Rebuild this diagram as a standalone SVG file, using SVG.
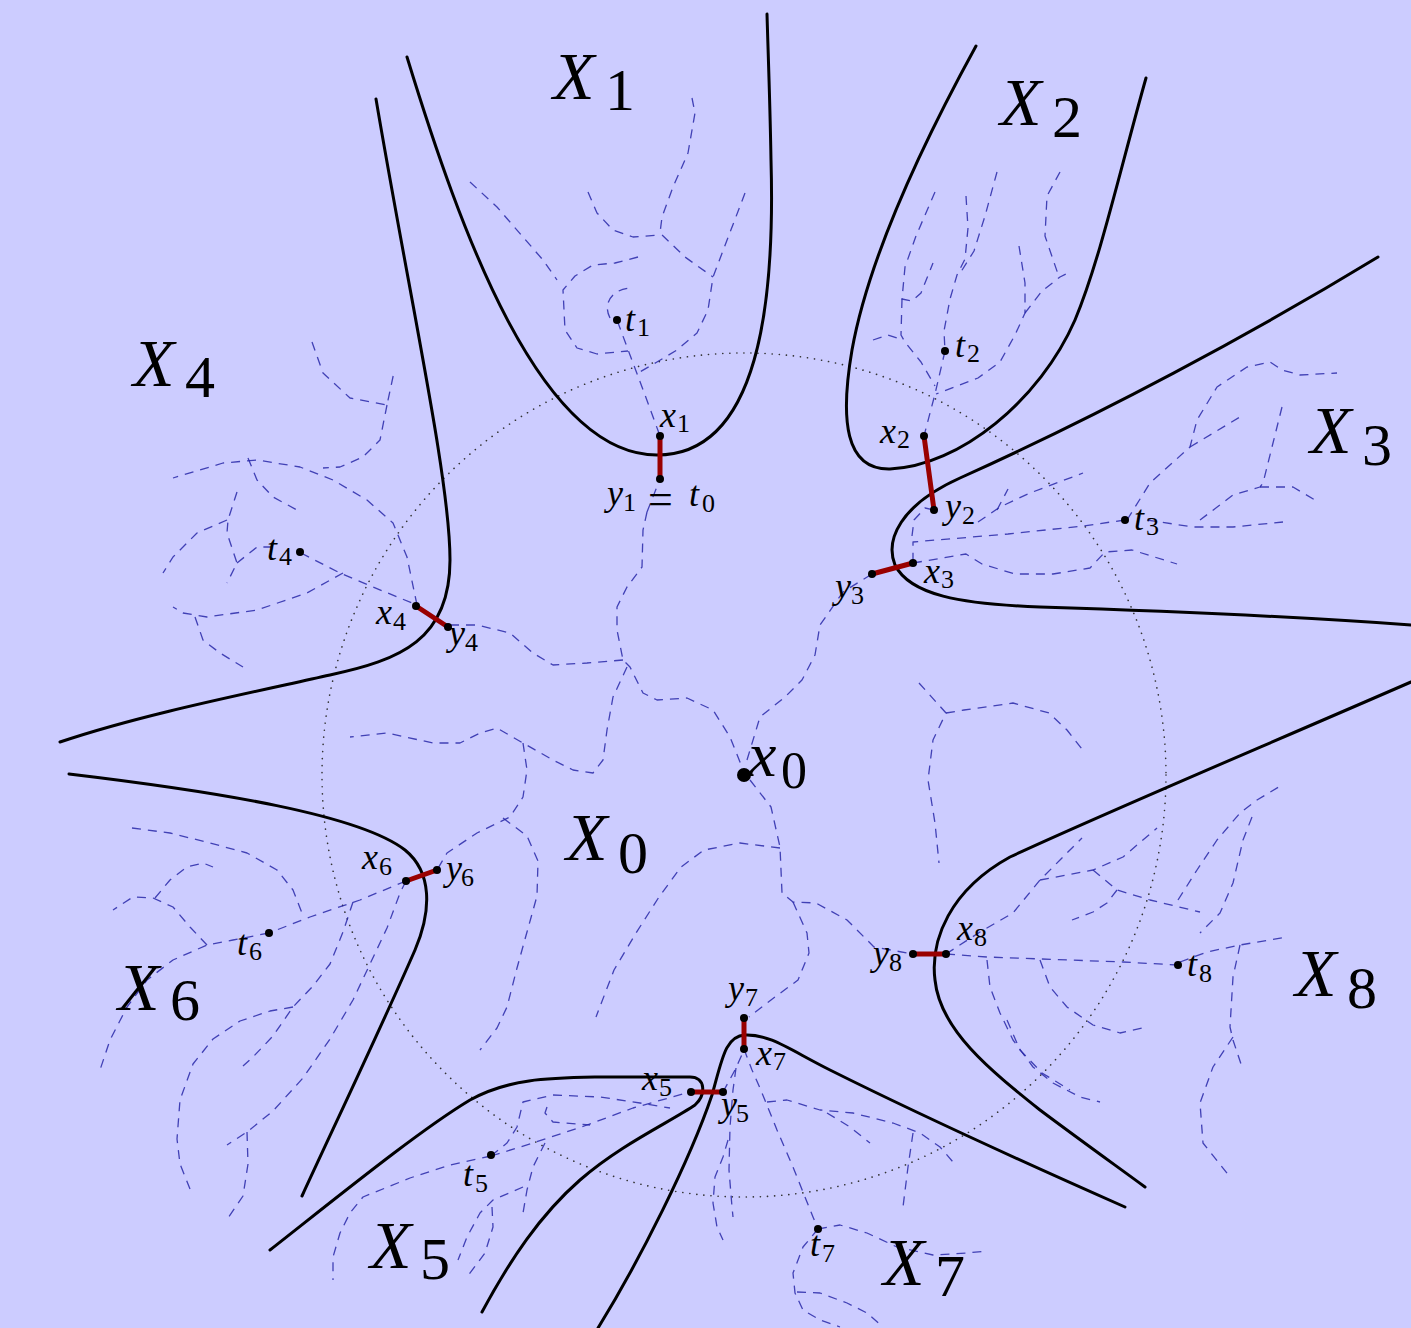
<svg xmlns="http://www.w3.org/2000/svg" width="1411" height="1328" viewBox="0 0 1411 1328">
<rect width="1411" height="1328" fill="#ccccff"/>
<circle cx="744" cy="775" r="422" fill="none" stroke="#333" stroke-width="1.6" stroke-dasharray="0.1 7" stroke-linecap="round"/>
<g id="dashed-paths" fill="none" stroke="#2828a8" stroke-opacity="0.85" stroke-width="1.3" stroke-dasharray="9 7" stroke-linejoin="round">
<path d="M647,512 L660,479 L660,436 L645,395 L630,355 L617,320"/>
<path d="M610,318 C603,305 610,290 630,288"/>
<path d="M692,98 L695,113 L688,153 L673,187 L662,217 L660,233 L685,257 L713,277"/>
<path d="M588,192 L597,213 L613,230 L633,237 L660,235"/>
<path d="M745,193 L713,277 L708,310 L697,333 L677,350 L657,362 L638,373"/>
<path d="M638,257 L615,263 L593,265 L575,276 L563,290 L565,330 L577,348 L597,354 L628,351"/>
<path d="M470,182 L497,207 L523,237 L543,260 L557,280"/>
<path d="M647,512 L643,530 L642,567 L627,587 L617,607 L617,630 L623,660 L630,667 L643,693 L657,700 L687,698 L713,710 L730,737 L742,767"/>
<path d="M450,625 L477,625 L510,633 L533,653 L553,665 L587,663 L623,660"/>
<path d="M627,667 L613,697 L607,730 L603,760 L593,773 L573,770 L553,760 L523,743 L497,728 L480,733 L460,743 L433,743 L387,733 L350,737"/>
<path d="M523,743 L527,770 L523,797 L510,817 L477,833 L447,853 L437,870"/>
<path d="M503,818 L527,836 L538,861 L537,896 L527,932 L517,968 L507,1007 L497,1028 L480,1050"/>
<path d="M747,760 L760,717 L785,697 L802,680 L815,655 L820,625 L843,592 L872,574"/>
<path d="M750,780 L771,807 L780,847 L782,893 L793,902 L816,903 L847,920 L874,947 L913,954"/>
<path d="M793,902 L807,933 L809,953 L798,980 L771,1000 L749,1017"/>
<path d="M780,848 L740,843 L704,850 L681,867 L659,897 L636,933 L614,970 L596,1017"/>
<path d="M919,683 L946,713 L933,740 L928,780 L935,823 L939,863"/>
<path d="M946,713 L964,710 L1013,703 L1049,713 L1067,730 L1085,753"/>
<path d="M301,553 L340,573 L373,587 L417,605"/>
<path d="M417,605 L407,557 L393,523 L367,500 L333,480 L300,467 L257,460 L223,463 L173,478"/>
<path d="M312,342 L323,373 L350,398 L387,405 L394,372"/>
<path d="M387,405 L380,440 L363,457 L340,467 L323,468"/>
<path d="M248,458 L257,480 L273,497 L297,510"/>
<path d="M237,492 L228,520 L227,533 L237,563 L227,583"/>
<path d="M227,520 L197,533 L173,557 L163,573"/>
<path d="M237,563 L257,547 L273,547"/>
<path d="M343,573 L307,593 L257,610 L207,617 L183,613 L173,607"/>
<path d="M195,617 L203,640 L220,653 L243,667"/>
<path d="M945,351 L935,394 L924,436"/>
<path d="M966,196 L968,228 L965,259 L957,275 L950,299 L944,331 L945,351"/>
<path d="M997,172 L985,216 L974,251 L959,275"/>
<path d="M935,192 L916,236 L905,267 L902,299 L912,301 L921,293 L933,263"/>
<path d="M902,299 L901,335 L905,342 L921,362 L935,386"/>
<path d="M873,340 L888,335 L903,340"/>
<path d="M1019,246 L1025,283 L1025,313 L1015,335 L1000,362 L978,378 L936,394"/>
<path d="M1025,313 L1042,291 L1060,277 L1072,271"/>
<path d="M1060,172 L1047,196 L1045,236 L1059,277"/>
<path d="M1125,520 L1083,526 L1008,534 L913,542 L913,563"/>
<path d="M912,536 L914,520 L925,508 L934,510"/>
<path d="M913,563 L966,554 L982,564 L1015,574 L1053,574 L1090,568 L1105,552 L1132,550 L1177,564"/>
<path d="M978,522 L1000,507 L1030,493 L1083,473"/>
<path d="M997,510 L1008,489"/>
<path d="M1127,520 L1150,483 L1190,447 L1197,420 L1217,387 L1247,367 L1270,362 L1282,370 L1300,375 L1337,373"/>
<path d="M1190,447 L1240,417"/>
<path d="M1282,407 L1263,483 L1260,487 L1233,495 L1200,520"/>
<path d="M1260,487 L1293,487 L1315,500"/>
<path d="M1147,520 L1193,527 L1233,527 L1283,522"/>
<path d="M406,881 L360,900 L310,917 L269,933"/>
<path d="M269,933 L233,940 L207,945 L173,960 L147,980 L127,1007 L110,1040 L100,1070"/>
<path d="M207,945 L190,927 L173,907 L153,898 L133,897 L113,910"/>
<path d="M155,898 L170,880 L187,867 L203,863 L213,867"/>
<path d="M132,828 L170,833 L210,843 L247,853 L277,870 L293,890 L302,913"/>
<path d="M406,881 L400,893 L387,928 L370,964 L353,1000 L330,1039 L303,1078 L273,1111 L247,1132 L227,1145"/>
<path d="M353,902 L343,932 L330,964 L313,986 L293,1007 L273,1036 L253,1057 L243,1066"/>
<path d="M293,1007 L270,1011 L240,1021 L213,1039 L193,1064 L180,1100 L177,1139 L180,1164 L190,1189"/>
<path d="M247,1132 L248,1164 L243,1196 L228,1218"/>
<path d="M491,1156 L533,1143 L587,1125 L633,1108 L690,1092"/>
<path d="M491,1156 L450,1165 L410,1178 L363,1197 L350,1213 L340,1233 L333,1257 L333,1280"/>
<path d="M491,1156 L507,1143 L517,1127 L523,1102 L553,1095 L600,1097 L640,1103 L670,1108"/>
<path d="M547,1107 L545,1113 L553,1122 L590,1125"/>
<path d="M545,1143 L533,1167 L527,1190 L523,1213"/>
<path d="M523,1187 L493,1200 L480,1213 L467,1237 L458,1260"/>
<path d="M492,1207 L493,1227 L485,1253 L467,1277"/>
<path d="M744,1049 L752,1070 L760,1088 L777,1130 L793,1167 L813,1217 L818,1229"/>
<path d="M723,1092 L735,1070 L744,1050"/>
<path d="M736,1068 L733,1090 L730,1127 L729,1170 L732,1207 L733,1217"/>
<path d="M728,1140 L723,1157 L715,1177 L713,1203 L717,1227 L723,1240"/>
<path d="M767,1102 L787,1100 L820,1110 L853,1113 L893,1123 L920,1133 L940,1147 L953,1162"/>
<path d="M827,1113 L850,1127 L870,1143"/>
<path d="M913,1133 L908,1167 L903,1207"/>
<path d="M818,1229 L840,1225 L867,1233 L897,1247 L933,1255 L967,1253 L987,1251"/>
<path d="M818,1229 L803,1247 L793,1273 L795,1293 L803,1310 L820,1320 L840,1327"/>
<path d="M797,1292 L820,1293 L847,1303 L867,1313 L883,1327"/>
<path d="M946,954 L987,957 L1123,962 L1178,965"/>
<path d="M946,954 L980,932 L1013,913 L1040,880 L1060,860 L1082,838"/>
<path d="M1040,880 L1093,870 L1123,857 L1157,828"/>
<path d="M1093,870 L1117,890 L1150,900 L1200,912"/>
<path d="M1117,890 L1107,903 L1093,912 L1072,920"/>
<path d="M1178,900 L1197,870 L1217,840 L1240,813 L1257,800 L1282,785"/>
<path d="M1252,817 L1243,840 L1233,883 L1220,913 L1200,933"/>
<path d="M1180,962 L1207,952 L1240,945 L1287,937"/>
<path d="M1240,945 L1233,977 L1230,1027 L1233,1040 L1243,1070"/>
<path d="M1233,1037 L1213,1067 L1200,1103 L1203,1143 L1230,1177"/>
<path d="M987,960 L990,987 L1000,1013 L1013,1040 L1033,1067 L1053,1083 L1080,1097 L1100,1102"/>
<path d="M1007,1020 L1020,1050 L1042,1073 L1070,1090"/>
<path d="M1040,960 L1050,987 L1067,1007 L1093,1025 L1120,1033 L1147,1027"/>
</g>
<g id="boundaries" fill="none" stroke="#000" stroke-width="3" stroke-linecap="round" stroke-linejoin="round">
<path d="M407,57 C460,230 540,455 657,455 C760,455 775,300 771,160 C770,100 768,50 767,14"/>
<path d="M376,99 C410,300 450,480 450,560 C450,640 400,660 330,675 C240,695 140,715 60,742"/>
<path d="M69,774 C220,792 360,815 405,850 C432,872 432,910 415,950 C380,1030 330,1135 302,1196"/>
<path d="M976,46 C930,130 870,250 852,350 C840,420 845,470 890,469 C960,466 1040,400 1075,320 C1100,260 1120,170 1146,78"/>
<path d="M1378,257 C1250,335 1100,415 960,478 C900,505 885,540 895,565 C910,595 960,604 1040,607 C1200,612 1300,617 1411,625"/>
<path d="M1411,682 C1250,752 1100,815 1010,857 C950,890 930,940 935,980 C940,1030 990,1070 1040,1110 C1080,1140 1115,1165 1145,1187"/>
<path d="M598,1328 C640,1260 690,1160 712,1095 C722,1060 725,1036 745,1035 C770,1034 790,1050 830,1070 C920,1115 1030,1165 1125,1207"/>
<path d="M270,1250 C340,1195 420,1130 470,1100 C510,1078 550,1078 600,1077 L690,1077 C706,1077 706,1095 695,1105 C670,1122 620,1145 580,1180 C540,1215 510,1260 482,1312"/>
</g>
<g id="connectors" stroke="#990000" stroke-width="5" stroke-linecap="round">
<line x1="660" y1="436" x2="660" y2="479"/>
<line x1="924" y1="436" x2="934" y2="510"/>
<line x1="913" y1="563" x2="872" y2="574"/>
<line x1="416" y1="606" x2="448" y2="627"/>
<line x1="406" y1="881" x2="437" y2="870"/>
<line x1="691" y1="1092" x2="723" y2="1092"/>
<line x1="744" y1="1049" x2="744" y2="1018"/>
<line x1="946" y1="954" x2="913" y2="954"/>
</g>
<g id="points" fill="#000">
<circle cx="744" cy="775" r="7"/>
<circle cx="617" cy="320" r="4"/><circle cx="945" cy="351" r="4"/><circle cx="1125" cy="520" r="4"/><circle cx="300" cy="552" r="4"/>
<circle cx="491" cy="1155" r="4"/><circle cx="269" cy="933" r="4"/><circle cx="818" cy="1229" r="4"/><circle cx="1178" cy="965" r="4"/>
<circle cx="660" cy="436" r="4"/><circle cx="660" cy="479" r="4"/><circle cx="924" cy="436" r="4"/><circle cx="934" cy="510" r="4"/>
<circle cx="913" cy="563" r="4"/><circle cx="872" cy="574" r="4"/><circle cx="416" cy="606" r="4"/><circle cx="448" cy="627" r="4"/>
<circle cx="691" cy="1092" r="4"/><circle cx="723" cy="1092" r="4"/><circle cx="406" cy="881" r="4"/><circle cx="437" cy="870" r="4"/>
<circle cx="744" cy="1049" r="4"/><circle cx="744" cy="1018" r="4"/><circle cx="946" cy="954" r="4"/><circle cx="913" cy="954" r="4"/>
</g>
<text x="748" y="776" font-family="Liberation Serif" font-style="italic" font-size="64">x</text><text x="781" y="788" font-family="Liberation Serif" font-size="52">0</text>
<text x="566" y="860" font-family="Liberation Serif" font-style="italic" font-size="68">X</text><text x="618" y="873" font-family="Liberation Serif" font-size="60">0</text>
<text x="553" y="99" font-family="Liberation Serif" font-style="italic" font-size="68">X</text><text x="605" y="110" font-family="Liberation Serif" font-size="60">1</text>
<text x="1000" y="125" font-family="Liberation Serif" font-style="italic" font-size="68">X</text><text x="1052" y="137" font-family="Liberation Serif" font-size="60">2</text>
<text x="1310" y="453" font-family="Liberation Serif" font-style="italic" font-size="68">X</text><text x="1362" y="465" font-family="Liberation Serif" font-size="60">3</text>
<text x="133" y="386" font-family="Liberation Serif" font-style="italic" font-size="68">X</text><text x="185" y="397" font-family="Liberation Serif" font-size="60">4</text>
<text x="370" y="1268" font-family="Liberation Serif" font-style="italic" font-size="68">X</text><text x="420" y="1279" font-family="Liberation Serif" font-size="60">5</text>
<text x="118" y="1010" font-family="Liberation Serif" font-style="italic" font-size="68">X</text><text x="170" y="1020" font-family="Liberation Serif" font-size="60">6</text>
<text x="883" y="1285" font-family="Liberation Serif" font-style="italic" font-size="68">X</text><text x="935" y="1296" font-family="Liberation Serif" font-size="60">7</text>
<text x="1295" y="996" font-family="Liberation Serif" font-style="italic" font-size="68">X</text><text x="1347" y="1008" font-family="Liberation Serif" font-size="60">8</text>
<text x="625" y="331" font-family="Liberation Serif" font-style="italic" font-size="36">t</text><text x="637" y="336" font-family="Liberation Serif" font-size="26">1</text>
<text x="955" y="357" font-family="Liberation Serif" font-style="italic" font-size="36">t</text><text x="967" y="362" font-family="Liberation Serif" font-size="26">2</text>
<text x="1134" y="530" font-family="Liberation Serif" font-style="italic" font-size="36">t</text><text x="1146" y="535" font-family="Liberation Serif" font-size="26">3</text>
<text x="267" y="560" font-family="Liberation Serif" font-style="italic" font-size="36">t</text><text x="279" y="565" font-family="Liberation Serif" font-size="26">4</text>
<text x="463" y="1186" font-family="Liberation Serif" font-style="italic" font-size="36">t</text><text x="475" y="1192" font-family="Liberation Serif" font-size="26">5</text>
<text x="237" y="955" font-family="Liberation Serif" font-style="italic" font-size="36">t</text><text x="249" y="960" font-family="Liberation Serif" font-size="26">6</text>
<text x="810" y="1256" font-family="Liberation Serif" font-style="italic" font-size="36">t</text><text x="822" y="1262" font-family="Liberation Serif" font-size="26">7</text>
<text x="1187" y="976" font-family="Liberation Serif" font-style="italic" font-size="36">t</text><text x="1199" y="982" font-family="Liberation Serif" font-size="26">8</text>
<text x="660" y="427" font-family="Liberation Serif" font-style="italic" font-size="36">x</text><text x="677" y="432" font-family="Liberation Serif" font-size="26">1</text>
<text x="607" y="505" font-family="Liberation Serif" font-style="italic" font-size="36">y</text><text x="623" y="511" font-family="Liberation Serif" font-size="26">1</text>
<text x="648" y="514" font-family="Liberation Serif" font-size="44">=</text>
<text x="689" y="506" font-family="Liberation Serif" font-style="italic" font-size="36">t</text><text x="702" y="512" font-family="Liberation Serif" font-size="26">0</text>
<text x="880" y="443" font-family="Liberation Serif" font-style="italic" font-size="36">x</text><text x="897" y="448" font-family="Liberation Serif" font-size="26">2</text>
<text x="945" y="518" font-family="Liberation Serif" font-style="italic" font-size="36">y</text><text x="962" y="524" font-family="Liberation Serif" font-size="26">2</text>
<text x="924" y="583" font-family="Liberation Serif" font-style="italic" font-size="36">x</text><text x="941" y="588" font-family="Liberation Serif" font-size="26">3</text>
<text x="835" y="598" font-family="Liberation Serif" font-style="italic" font-size="36">y</text><text x="851" y="604" font-family="Liberation Serif" font-size="26">3</text>
<text x="376" y="624" font-family="Liberation Serif" font-style="italic" font-size="36">x</text><text x="393" y="630" font-family="Liberation Serif" font-size="26">4</text>
<text x="449" y="645" font-family="Liberation Serif" font-style="italic" font-size="36">y</text><text x="465" y="651" font-family="Liberation Serif" font-size="26">4</text>
<text x="642" y="1090" font-family="Liberation Serif" font-style="italic" font-size="36">x</text><text x="659" y="1096" font-family="Liberation Serif" font-size="26">5</text>
<text x="721" y="1116" font-family="Liberation Serif" font-style="italic" font-size="36">y</text><text x="736" y="1122" font-family="Liberation Serif" font-size="26">5</text>
<text x="362" y="869" font-family="Liberation Serif" font-style="italic" font-size="36">x</text><text x="379" y="875" font-family="Liberation Serif" font-size="26">6</text>
<text x="446" y="880" font-family="Liberation Serif" font-style="italic" font-size="36">y</text><text x="461" y="886" font-family="Liberation Serif" font-size="26">6</text>
<text x="756" y="1065" font-family="Liberation Serif" font-style="italic" font-size="36">x</text><text x="773" y="1070" font-family="Liberation Serif" font-size="26">7</text>
<text x="728" y="1000" font-family="Liberation Serif" font-style="italic" font-size="36">y</text><text x="745" y="1006" font-family="Liberation Serif" font-size="26">7</text>
<text x="957" y="940" font-family="Liberation Serif" font-style="italic" font-size="36">x</text><text x="974" y="946" font-family="Liberation Serif" font-size="26">8</text>
<text x="873" y="965" font-family="Liberation Serif" font-style="italic" font-size="36">y</text><text x="889" y="971" font-family="Liberation Serif" font-size="26">8</text>
</svg>
